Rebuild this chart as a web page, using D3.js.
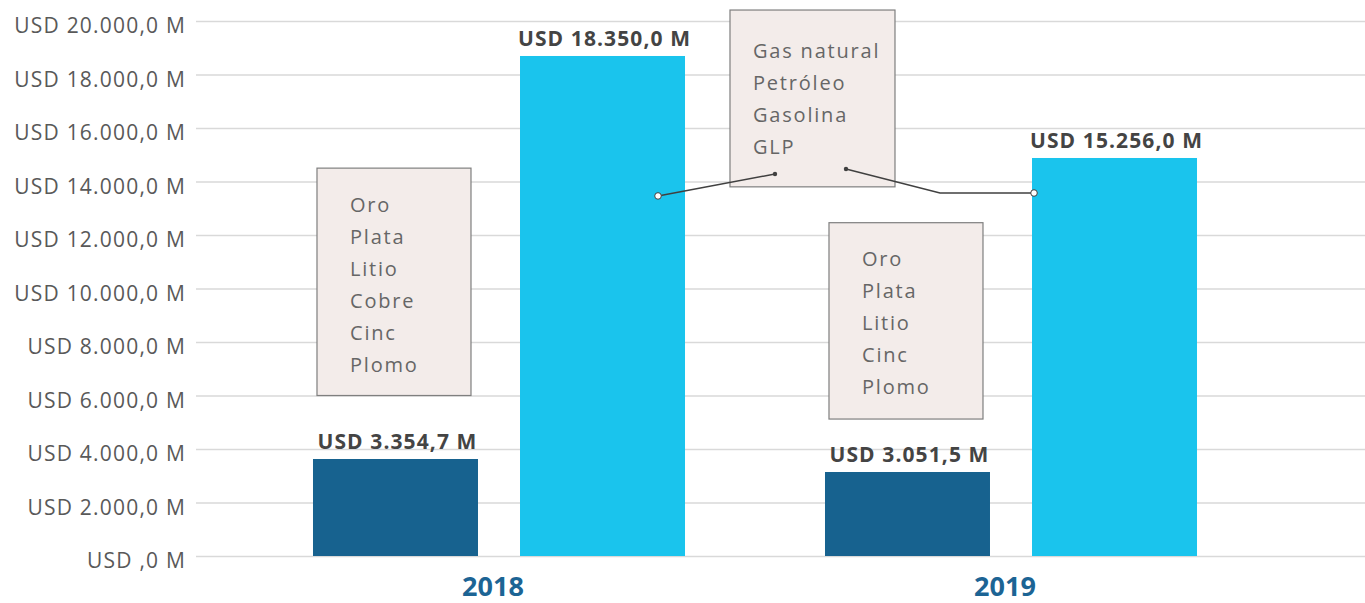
<!DOCTYPE html>
<html>
<head>
<meta charset="utf-8">
<script src="https://cdn.jsdelivr.net/npm/d3@7"></script>
<style>
  body { margin: 0; background: #fff; }
  svg { font-family: "Open Sans", "Lato", sans-serif; }
  .y.axis text { fill: #595959; font-size: 21px; letter-spacing: 1.2px; font-family: "Open Sans", sans-serif; }
  .y.axis line { stroke: #d9d9d9; stroke-width: 1.5; }
  .catLabel { fill: #1c6494; font-size: 27px; font-weight: bold; }
  .valLabel { fill: #444; font-size: 21px; font-weight: bold; letter-spacing: 1.1px; }
  .boxText { fill: #666; font-size: 20px; letter-spacing: 1.8px; }
</style>
</head>
<body>
<script>
// data
var years = ["2018", "2019"];
var series = ["mineria", "hidrocarburos"];
var mineria = [3626, 3140];          // bar heights
var hidrocarburos = [18692, 14879];
var labelsMineria = ["USD 3.354,7 M", "USD 3.051,5 M"];
var labelsHidro = ["USD 18.350,0 M", "USD 15.256,0 M"];
var yTicks = [0, 2000, 4000, 6000, 8000, 10000, 12000, 14000, 16000, 18000, 20000];
var boxMin2018 = ["Oro", "Plata", "Litio", "Cobre", "Cinc", "Plomo"];
var boxMin2019 = ["Oro", "Plata", "Litio", "Cinc", "Plomo"];
var boxHidro = ["Gas natural", "Petróleo", "Gasolina", "GLP"];

var colors = {mineria: "#17628f", hidrocarburos: "#1ac4ed"};

var margin = {top: 21, right: 0, bottom: 47, left: 196},
    width = 1365 - margin.left - margin.right,
    height = 603 - margin.top - margin.bottom;

var svg = d3.select("body").append("svg")
    .attr("width", 1365)
    .attr("height", 603)
  .append("g")
    .attr("transform", "translate(" + margin.left + "," + margin.top + ")");

var y = d3.scaleLinear().domain([0, 20000]).range([height, 0]);
var x0 = d3.scaleBand().domain(years).range([47, 1071])
    .paddingInner(0.2734).paddingOuter(0.1367);
var x1 = d3.scaleBand().domain(series).range([0, x0.bandwidth()])
    .paddingInner(0.203).paddingOuter(0);

var loc = d3.formatLocale({decimal: ",", thousands: ".", grouping: [3], currency: ["", ""]});
var fmt = loc.format(",.1f");

var yAxis = d3.axisLeft(y)
    .tickValues(yTicks)
    .tickSize(-width)
    .tickPadding(10)
    .tickFormat(function(d){ return "USD " + (d === 0 ? ",0" : fmt(d)) + " M"; });

var gy = svg.append("g").attr("class", "y axis").call(yAxis);
gy.attr("font-family", null).attr("font-size", null);
gy.select(".domain").remove();
gy.selectAll("text").attr("dy", "0.55em");

// rows
var rows = years.map(function(yr, i){
  return {year: yr, values: [
    {key: "mineria", value: mineria[i], label: labelsMineria[i]},
    {key: "hidrocarburos", value: hidrocarburos[i], label: labelsHidro[i]}
  ]};
});

var group = svg.selectAll(".grp")
    .data(rows)
  .enter().append("g")
    .attr("class", "grp")
    .attr("transform", function(d){ return "translate(" + x0(d.year) + ",0)"; });

group.selectAll("rect")
    .data(function(d){ return d.values; })
  .enter().append("rect")
    .attr("x", function(d){ return x1(d.key); })
    .attr("y", function(d){ return y(d.value); })
    .attr("width", x1.bandwidth())
    .attr("height", function(d){ return height - y(d.value); })
    .attr("fill", function(d){ return colors[d.key]; });

group.selectAll(".valLabel")
    .data(function(d){ return d.values; })
  .enter().append("text")
    .attr("class", "valLabel")
    .attr("text-anchor", "middle")
    .attr("x", function(d){ return x1(d.key) + x1.bandwidth() / 2 + 2; })
    .attr("y", function(d){ return y(d.value) - 10; })
    .text(function(d){ return d.label; });

svg.selectAll(".catLabel")
    .data(years)
  .enter().append("text")
    .attr("class", "catLabel")
    .attr("text-anchor", "middle")
    .attr("x", function(d){ return x0(d) + x0.bandwidth() / 2 - 6; })
    .attr("y", height + 40)
    .text(function(d){ return d; });

// annotation boxes
function drawBox(x, top, bottom, w, lines, textX, firstY){
  var b = svg.append("g").attr("class", "annot");
  b.append("rect")
    .attr("x", x).attr("y", y(top))
    .attr("width", w).attr("height", y(bottom) - y(top))
    .attr("fill", "#f3ecea").attr("stroke", "#7f7f7f").attr("stroke-width", 1.2);
  b.selectAll("text").data(lines).enter().append("text")
    .attr("class", "boxText")
    .attr("x", x + textX)
    .attr("y", function(d, i){ return y(top) + firstY + i * 32; })
    .text(function(d){ return d; });
  return b;
}

var dark2018 = x0("2018") + x1("mineria");
var dark2019 = x0("2019") + x1("mineria");
var light2018 = x0("2018") + x1("hidrocarburos");
var light2019 = x0("2019") + x1("hidrocarburos");
var boxW = x1.bandwidth();

drawBox(dark2018 + 4, 14500, 6000, boxW - 11, boxMin2018, 33, 44);
drawBox(dark2019 + 4, 12460, 5120, boxW - 11, boxMin2019, 33, 43);
var hx = dark2019 - 95;
drawBox(hx, 20410, 13800, boxW, boxHidro, 23, 48);

// connectors
var line = d3.line().x(function(d){ return d[0]; }).y(function(d){ return y(d[1]); });
var con1 = [[light2018 + 138, 13460], [hx + 45, 14280]];
var con2 = [[light2019 + 2, 13570], [hx + 210, 13570], [hx + 116, 14470]];

[con1, con2].forEach(function(c){
  svg.append("path")
    .attr("d", line(c))
    .attr("fill", "none")
    .attr("stroke", "#404040")
    .attr("stroke-width", 1.5);
  var s = c[0], e = c[c.length - 1];
  svg.append("circle").attr("cx", e[0]).attr("cy", y(e[1])).attr("r", 2.2).attr("fill", "#404040");
  svg.append("circle").attr("cx", s[0]).attr("cy", y(s[1])).attr("r", 3.3)
    .attr("fill", "#fff").attr("stroke", "#404040").attr("stroke-width", 1);
});
</script>
</body>
</html>
